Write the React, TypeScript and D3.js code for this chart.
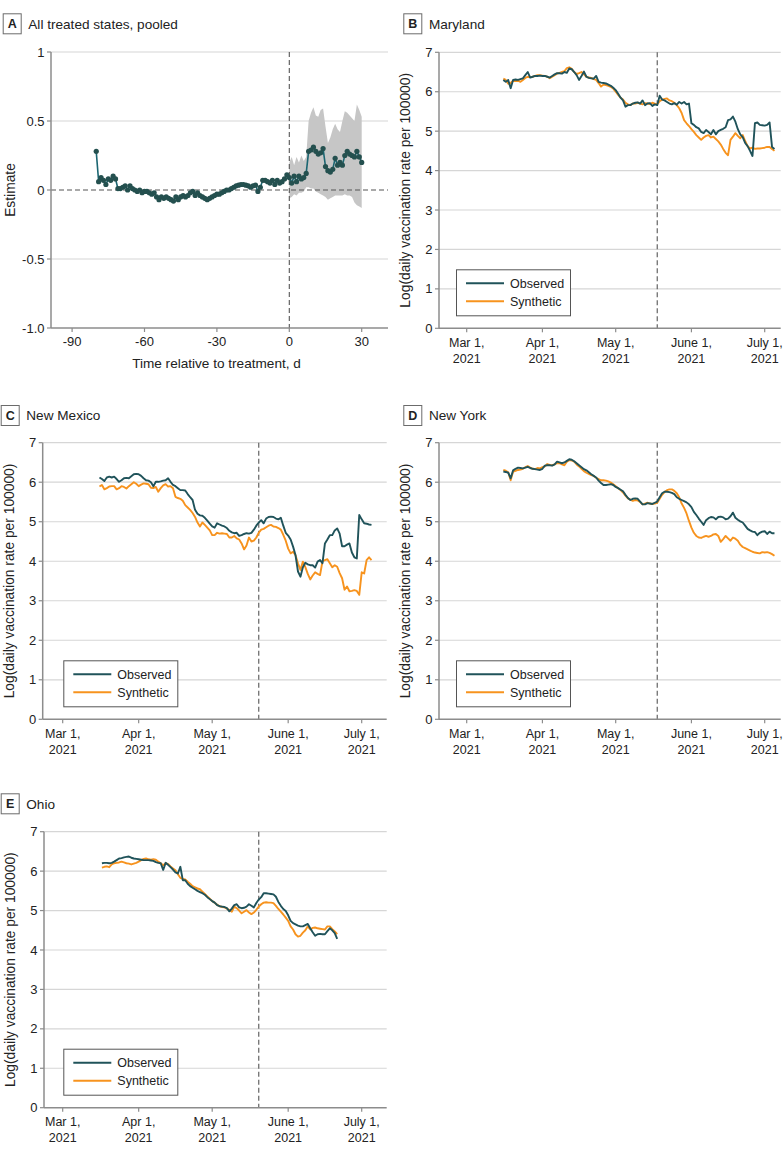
import * as d3 from "d3";

const FONT = "'Liberation Sans', Arial, sans-serif";
const TEAL = "#20535a";
const ORANGE = "#f7931e";
const GRID = "#d6d6d6";
const AXIS = "#8c8c8c";
const DASH = "#555555";

// ---------- Panel A: pooled estimate (one point per day relative to treatment)
const pooledStartDay = -80;
const pooledEstimate = [
  0.28, 0.06, 0.09, 0.07, 0.04, 0.08, 0.07, 0.1, 0.08, 0.01,
  0.01, 0.02, 0.03, 0.0, 0.03, 0.01, 0.0, -0.01, 0.0, -0.02,
  -0.01, -0.01, -0.02, -0.03, -0.02, -0.05, -0.07, -0.05, -0.06, -0.05,
  -0.06, -0.07, -0.08, -0.05, -0.07, -0.05, -0.04, -0.05, -0.04, -0.02,
  -0.01, -0.04, -0.02, -0.04, -0.05, -0.06, -0.07, -0.06, -0.05, -0.04,
  -0.03, -0.03, -0.02, -0.01, 0.0, 0.0, 0.01, 0.02, 0.03, 0.035,
  0.04, 0.04, 0.035, 0.03, 0.02, 0.03, 0.035, -0.01, 0.02, 0.07,
  0.07, 0.06, 0.05, 0.07, 0.04, 0.07, 0.05, 0.06, 0.08, 0.11,
  0.09, 0.05, 0.1, 0.06, 0.1, 0.08, 0.09, 0.12, 0.28, 0.29,
  0.31, 0.28, 0.26, 0.27, 0.3, 0.17, 0.14, 0.13, 0.15, 0.23,
  0.18, 0.2, 0.18, 0.25, 0.28, 0.26, 0.25, 0.24, 0.28, 0.24,
  0.2,
];
const bandStartDay = 0;
const bandUpper = [
  0.2, 0.24, 0.18, 0.24, 0.2, 0.25, 0.21, 0.24, 0.5, 0.56,
  0.6, 0.54, 0.53, 0.58, 0.59, 0.46, 0.34, 0.38, 0.44, 0.48,
  0.44, 0.42, 0.5, 0.57, 0.56, 0.54, 0.52, 0.5, 0.62, 0.58,
  0.53,
];
const bandLower = [
  -0.06, -0.05, -0.03, -0.04, -0.02, -0.02, -0.01, 0.02, 0.02, 0.01,
  0.01, -0.01, -0.02, -0.03, -0.04, -0.05, -0.07, -0.06, -0.05, -0.04,
  -0.04, -0.04, -0.04, -0.03, -0.04, -0.04, -0.05, -0.09, -0.11, -0.12,
  -0.13,
];
const pooledYTicks = [1, 0.5, 0, -0.5, -1];
const pooledYLabels = ["1", "0.5", "0", "-0.5", "-1.0"];
const pooledXTicks = [-90, -60, -30, 0, 30];
const pooledXLabels = ["-90", "-60", "-30", "0", "30"];

// ---------- State panels
const monthTicks = ["2021-03-01", "2021-04-01", "2021-05-01", "2021-06-01", "2021-07-01"];
const monthLabels = ["Mar 1,", "Apr 1,", "May 1,", "June 1,", "July 1,"];
const yearLabel = "2021";
const logTicks = [0, 1, 2, 3, 4, 5, 6, 7];

const marylandStart = "2021-03-16";
const marylandTreat = "2021-05-18";
const marylandObserved = [
  6.3, 6.25, 6.3, 6.09, 6.3, 6.31, 6.3, 6.32, 6.34, 6.42,
  6.5, 6.36, 6.38, 6.4, 6.4, 6.41, 6.4, 6.4, 6.38, 6.36,
  6.4, 6.44, 6.47, 6.47, 6.46, 6.5, 6.48, 6.59, 6.57, 6.5,
  6.42, 6.3, 6.4, 6.51, 6.38, 6.35, 6.34, 6.33, 6.4, 6.25,
  6.23, 6.22, 6.21, 6.18, 6.15, 6.1, 6.04, 5.95, 5.85, 5.78,
  5.62, 5.66, 5.66, 5.7, 5.72, 5.73, 5.7, 5.78, 5.66, 5.7,
  5.71, 5.64, 5.68, 5.66, 5.9, 5.8, 5.78, 5.74, 5.7, 5.68,
  5.71, 5.67, 5.74, 5.7, 5.74, 5.68, 5.7, 5.2, 5.16, 5.1,
  5.07, 4.98, 4.95, 5.03, 4.98, 4.92, 5.03, 4.92, 5.0, 5.03,
  5.06, 5.1, 5.28, 5.3, 5.37, 5.24, 5.05, 4.92, 4.85, 4.7,
  4.62, 4.5, 4.37, 5.2, 5.22, 5.16, 5.15, 5.14, 5.16, 5.22,
  4.6, 4.55,
];
const marylandSynthetic = [
  6.33, 6.3, 6.2, 6.22, 6.28, 6.27, 6.28, 6.25, 6.3, 6.35,
  6.38, 6.37, 6.38, 6.4, 6.42, 6.42, 6.41, 6.4, 6.38, 6.34,
  6.38, 6.42, 6.46, 6.48, 6.5, 6.52, 6.6, 6.62, 6.58, 6.5,
  6.45, 6.47, 6.5, 6.44, 6.38, 6.36, 6.35, 6.32, 6.3, 6.22,
  6.13, 6.18, 6.17, 6.15, 6.12, 6.08, 6.0, 5.92, 5.85, 5.8,
  5.72, 5.68, 5.66, 5.7, 5.7, 5.72, 5.7, 5.68, 5.71, 5.7,
  5.69, 5.72, 5.7, 5.68, 5.76, 5.8, 5.82, 5.83, 5.78, 5.76,
  5.72, 5.66, 5.58, 5.46, 5.28, 5.2, 5.13, 5.05, 4.98, 4.9,
  4.84, 4.78, 4.84, 4.88, 4.9, 4.84, 4.86, 4.8, 4.74, 4.66,
  4.55, 4.45, 4.39, 4.78, 4.86, 4.95, 4.88, 4.82, 4.9, 4.75,
  4.62, 4.56, 4.58, 4.55, 4.56, 4.56, 4.57, 4.58, 4.6, 4.6,
  4.55, 4.5,
];

const newMexicoStart = "2021-03-16";
const newMexicoTreat = "2021-05-20";
const newMexicoObserved = [
  6.12, 6.08, 6.03, 6.12, 6.14, 6.12, 6.14, 6.08, 6.01, 6.05,
  6.1, 6.11, 6.1, 6.15, 6.2, 6.21, 6.2, 6.16, 6.1, 6.05,
  6.04, 6.0, 5.9, 6.01, 6.01, 6.02, 6.04, 6.05, 6.1, 6.01,
  5.93, 5.9, 5.85, 5.8, 5.8, 5.79, 5.7, 5.62, 5.55, 5.3,
  5.2, 5.16, 5.15, 5.1, 5.03, 4.95, 4.88, 4.85, 4.96, 4.93,
  4.9, 4.88, 4.84, 4.77, 4.73, 4.71, 4.72, 4.64, 4.66, 4.69,
  4.71, 4.7, 4.72, 4.8, 4.9, 4.98, 5.04, 4.96, 5.08, 5.12,
  5.13, 5.12, 5.08, 5.06, 5.1, 4.9, 4.72, 4.65, 4.55, 4.37,
  4.15, 3.74, 3.61, 3.85, 3.96, 3.92, 3.9, 3.9, 3.84, 3.99,
  4.03, 3.95, 4.45, 4.55, 4.66, 4.66, 4.78, 4.83, 4.7, 4.38,
  4.38, 4.42, 4.45, 4.22, 4.1, 4.07, 5.17, 5.06, 4.96, 4.95,
  4.93, 4.92,
];
const newMexicoSynthetic = [
  5.89, 5.93, 5.82, 5.85, 5.89, 5.9, 5.9, 5.82, 5.85, 5.9,
  5.88, 5.84, 5.9, 5.95, 6.0, 5.96, 5.9, 5.94, 5.97, 5.96,
  5.95, 5.86, 5.85, 5.88, 5.76, 5.85, 5.92, 5.95, 5.89, 5.9,
  5.85, 5.63, 5.6, 5.58, 5.53, 5.42, 5.36, 5.3, 5.22, 5.12,
  4.98, 4.88, 4.98, 4.92, 4.85, 4.78, 4.66, 4.66, 4.72, 4.7,
  4.71, 4.7, 4.69, 4.6, 4.6, 4.64, 4.58, 4.55, 4.45, 4.3,
  4.4, 4.6, 4.5, 4.52, 4.6, 4.72, 4.8, 4.82, 4.86, 4.9,
  4.92, 4.88, 4.87, 4.84, 4.8, 4.67, 4.52, 4.32, 4.2, 4.24,
  4.15, 3.95, 3.78, 3.99, 3.85, 3.68, 3.54, 3.64, 3.72, 3.68,
  3.65, 4.0, 4.03, 4.05, 3.95, 3.85, 3.9, 3.86, 3.7, 3.57,
  3.28, 3.36, 3.24, 3.25, 3.27, 3.25, 3.15, 3.72, 3.69, 4.03,
  4.1, 4.03,
];

const newYorkStart = "2021-03-16";
const newYorkTreat = "2021-05-18";
const newYorkObserved = [
  6.27, 6.26, 6.24, 6.1, 6.3, 6.34, 6.37, 6.36, 6.35, 6.37,
  6.39, 6.36, 6.34, 6.33, 6.32, 6.31, 6.34, 6.42, 6.43, 6.43,
  6.42, 6.45, 6.52, 6.5, 6.48, 6.5, 6.54, 6.58, 6.57, 6.53,
  6.48, 6.43, 6.38, 6.33, 6.3, 6.25, 6.2, 6.16, 6.12, 6.04,
  5.98, 5.93, 5.93, 5.94, 5.95, 5.93, 5.88, 5.85, 5.81, 5.77,
  5.68, 5.6, 5.55, 5.58, 5.59, 5.58, 5.51, 5.44, 5.44, 5.47,
  5.46, 5.45, 5.48, 5.51, 5.62, 5.72, 5.76, 5.76, 5.75, 5.73,
  5.7, 5.62, 5.58, 5.55, 5.52, 5.49, 5.44, 5.37, 5.25, 5.17,
  5.08, 5.0, 4.92, 5.04, 5.09, 5.12, 5.11, 5.06, 5.12, 5.13,
  5.11, 5.06, 5.08, 5.14, 5.23, 5.1, 5.05, 5.01, 4.98, 4.9,
  4.82, 4.78, 4.75, 4.74, 4.66, 4.72, 4.75, 4.76, 4.69, 4.75,
  4.71, 4.71,
];
const newYorkSynthetic = [
  6.31, 6.29, 6.25, 6.05, 6.27, 6.29, 6.31, 6.32, 6.34, 6.38,
  6.41, 6.37, 6.34, 6.33, 6.36, 6.35, 6.38, 6.4, 6.46, 6.44,
  6.43, 6.45, 6.48, 6.48, 6.45, 6.43, 6.52, 6.56, 6.55, 6.52,
  6.45, 6.4, 6.34, 6.28, 6.24, 6.21, 6.18, 6.16, 6.11, 6.08,
  6.05, 6.05, 6.04, 6.02, 5.99, 5.95, 5.9, 5.85, 5.8, 5.74,
  5.66, 5.59, 5.56, 5.53, 5.55, 5.54, 5.5, 5.44, 5.46, 5.48,
  5.46, 5.45, 5.46, 5.48, 5.58, 5.68, 5.75, 5.8, 5.82, 5.82,
  5.78, 5.72, 5.62, 5.46, 5.35, 5.21, 5.02, 4.85, 4.72, 4.64,
  4.6, 4.59, 4.62, 4.64, 4.62, 4.64, 4.68, 4.69, 4.64, 4.49,
  4.56, 4.64, 4.58, 4.52, 4.6, 4.57, 4.52, 4.42, 4.36, 4.33,
  4.3, 4.27, 4.24, 4.22, 4.21, 4.2, 4.23, 4.22, 4.23, 4.21,
  4.18, 4.14,
];

const ohioStart = "2021-03-17";
const ohioTreat = "2021-05-20";
const ohioObserved = [
  6.2, 6.21, 6.21, 6.2, 6.21, 6.24, 6.28, 6.32, 6.33, 6.35,
  6.36, 6.37, 6.34, 6.32, 6.31, 6.3, 6.29, 6.28, 6.28, 6.28,
  6.27, 6.26, 6.23, 6.21, 6.2, 6.03, 6.21, 6.16, 6.1, 6.04,
  5.97, 5.94, 6.11, 5.77, 5.77, 5.68, 5.62, 5.58, 5.54, 5.5,
  5.47, 5.44, 5.4, 5.34, 5.29, 5.24, 5.2, 5.14, 5.11, 5.1,
  5.09, 5.06, 4.98, 5.05, 5.14, 5.16, 5.08, 5.06, 5.07, 5.1,
  5.16, 5.12, 5.08, 5.19, 5.28, 5.34, 5.44, 5.44, 5.43, 5.42,
  5.41, 5.35, 5.22, 5.12, 5.04, 4.99, 4.88, 4.74, 4.68, 4.65,
  4.62, 4.6, 4.6, 4.63, 4.66, 4.55, 4.45, 4.36, 4.4, 4.41,
  4.4, 4.4, 4.48, 4.55, 4.5, 4.43, 4.28,
];
const ohioSynthetic = [
  6.09, 6.11, 6.12, 6.1, 6.17, 6.2, 6.21, 6.22, 6.24, 6.22,
  6.2, 6.19, 6.17, 6.19, 6.21, 6.24, 6.28, 6.31, 6.32, 6.3,
  6.29, 6.3, 6.29, 6.24, 6.2, 6.15, 6.2, 6.18, 6.12, 6.07,
  6.02, 5.92, 5.83, 5.8, 5.79, 5.73, 5.68, 5.62, 5.59, 5.56,
  5.54, 5.48, 5.42, 5.36, 5.3, 5.24, 5.2, 5.15, 5.11, 5.09,
  5.08, 5.05, 5.01, 4.97, 5.1, 5.06, 5.0, 4.93, 4.97, 5.01,
  4.95, 4.91, 4.95, 5.02, 5.1, 5.16, 5.2, 5.21, 5.2, 5.2,
  5.19, 5.12, 5.04, 4.97, 4.9, 4.82, 4.74, 4.6, 4.52, 4.4,
  4.34, 4.36, 4.44, 4.5, 4.6, 4.52, 4.56, 4.57, 4.55, 4.54,
  4.53, 4.52, 4.6, 4.6, 4.53, 4.47, 4.4,
];

const parseDay = d3.timeParse("%Y-%m-%d");

type BoxProps = { x: number; y: number; letter: string; name: string };
function PanelTitle({ x, y, letter, name }: BoxProps) {
  return (
    <g>
      <rect x={x + 0.5} y={y + 0.5} width={18} height={20} fill="#fff" stroke="#6b6b6b" strokeWidth={1} />
      <text x={x + 9.5} y={y + 15} textAnchor="middle" fontWeight="bold" fontSize={12.5} fill="#222">
        {letter}
      </text>
      <text x={x + 25.6} y={y + 15.2} fontSize={13.6} fill="#222">
        {name}
      </text>
    </g>
  );
}

function PooledPanel() {
  const left = 51, top = 52, w = 337, h = 276;
  // 0 at 238.3 px from axis, 30 days = 72.4 px
  const x = d3.scaleLinear().domain([0, 30]).range([238.3, 310.7]);
  const y = d3.scaleLinear().domain([-1, 1]).range([h, 0]);
  const pts = pooledEstimate.map((v, i) => ({ d: pooledStartDay + i, v }));
  const band = bandUpper.map((u, i) => ({ d: bandStartDay + i, u, l: bandLower[i] }));
  const line = d3.line<any>().x((p) => x(p.d)).y((p) => y(p.v));
  const area = d3
    .area<any>()
    .x((p) => x(p.d))
    .y0((p) => y(p.l))
    .y1((p) => y(p.u));

  return (
    <g transform={`translate(${left},${top})`}>
      {pooledYTicks
        .filter((t) => t !== 0 && t !== -1)
        .map((t) => (
          <line key={t} x1={0} x2={w} y1={y(t)} y2={y(t)} stroke={GRID} strokeWidth={1.2} />
        ))}
      <path d={area(band) || ""} fill="#c6c6c6" />
      <line x1={0} x2={w} y1={y(0)} y2={y(0)} stroke={DASH} strokeWidth={1.1} strokeDasharray="5,3" />
      <line x1={x(0)} x2={x(0)} y1={0} y2={h} stroke={DASH} strokeWidth={1.1} strokeDasharray="5,3" />
      <path d={line(pts) || ""} fill="none" stroke="#1b6672" strokeWidth={1.6} />
      {pts.map((p) => (
        <circle key={p.d} cx={x(p.d)} cy={y(p.v)} r={2.6} fill="#24504f" />
      ))}
      <line x1={0} x2={0} y1={0} y2={h} stroke={AXIS} strokeWidth={1.5} />
      <line x1={0} x2={w} y1={h} y2={h} stroke={AXIS} strokeWidth={1.5} />
      {pooledYTicks.map((t, i) => (
        <g key={t} transform={`translate(0,${y(t)})`}>
          <line x1={-4} x2={0} stroke={AXIS} strokeWidth={1.2} />
          <text x={-6.5} dy="0.35em" textAnchor="end" fontSize={13} fill="#222">
            {pooledYLabels[i]}
          </text>
        </g>
      ))}
      {pooledXTicks.map((t, i) => (
        <g key={t} transform={`translate(${x(t)},${h})`}>
          <line y1={0} y2={4} stroke={AXIS} strokeWidth={1.2} />
          <text y={18} textAnchor="middle" fontSize={13} fill="#222">
            {pooledXLabels[i]}
          </text>
        </g>
      ))}
      <text x={w / 2 - 3} y={h + 40.3} textAnchor="middle" fontSize={13.6} fill="#222">
        Time relative to treatment, d
      </text>
      <text transform={`translate(${-41},${y(0)}) rotate(-90)`} dy="0.35em" textAnchor="middle" fontSize={13.8} fill="#222">
        Estimate
      </text>
    </g>
  );
}

type StateProps = {
  left: number;
  top: number;
  w: number;
  h: number;
  mar1: number;
  jul1: number;
  start: string;
  treat: string;
  observed: number[];
  synthetic: number[];
  legendX: number;
};

function StatePanel(p: StateProps) {
  const ticks = monthTicks.map((s) => parseDay(s) as Date);
  const x = d3.scaleTime().domain([ticks[0], ticks[4]]).range([p.mar1, p.jul1]);
  const y = d3.scaleLinear().domain([0, 7]).range([p.h, 0]);
  const start = parseDay(p.start) as Date;
  const toPts = (vals: number[]) => vals.map((v, i) => ({ t: d3.timeDay.offset(start, i), v }));
  const line = d3.line<any>().x((d) => x(d.t)).y((d) => y(d.v));
  const tx = x(parseDay(p.treat) as Date);
  const ly = p.h - 59;

  return (
    <g transform={`translate(${p.left},${p.top})`}>
      {logTicks
        .filter((t) => t > 0)
        .map((t) => (
          <line key={t} x1={0} x2={p.w} y1={y(t)} y2={y(t)} stroke={GRID} strokeWidth={1.2} />
        ))}
      <line x1={tx} x2={tx} y1={0} y2={p.h} stroke={DASH} strokeWidth={1.1} strokeDasharray="5,3" />
      <path d={line(toPts(p.synthetic)) || ""} fill="none" stroke={ORANGE} strokeWidth={1.9} strokeLinejoin="round" />
      <path d={line(toPts(p.observed)) || ""} fill="none" stroke={TEAL} strokeWidth={1.9} strokeLinejoin="round" />
      <line x1={0} x2={0} y1={0} y2={p.h} stroke={AXIS} strokeWidth={1.5} />
      <line x1={0} x2={p.w} y1={p.h} y2={p.h} stroke={AXIS} strokeWidth={1.5} />
      {logTicks.map((t) => (
        <g key={t} transform={`translate(0,${y(t)})`}>
          <line x1={-4} x2={0} stroke={AXIS} strokeWidth={1.2} />
          <text x={-6.5} dy="0.35em" textAnchor="end" fontSize={13} fill="#222">
            {t}
          </text>
        </g>
      ))}
      {ticks.map((t, i) => (
        <g key={i} transform={`translate(${x(t)},${p.h})`}>
          <line y1={0} y2={4} stroke={AXIS} strokeWidth={1.2} />
          <text y={18.5} textAnchor="middle" fontSize={12.5} fill="#222">
            {monthLabels[i]}
          </text>
          <text y={34.5} textAnchor="middle" fontSize={12.5} fill="#222">
            {yearLabel}
          </text>
        </g>
      ))}
      <text transform={`translate(${-34},${p.h / 2}) rotate(-90)`} dy="0.35em" textAnchor="middle" fontSize={13.8} fill="#222">
        Log(daily vaccination rate per 100000)
      </text>
      <g transform={`translate(${p.legendX},${ly})`}>
        <rect x={0.5} y={0.5} width={114} height={46} fill="#fff" stroke="#555" strokeWidth={1} />
        <line x1={10} x2={48} y1={14} y2={14} stroke={TEAL} strokeWidth={2} />
        <line x1={10} x2={48} y1={32} y2={32} stroke={ORANGE} strokeWidth={2} />
        <text x={54} y={18.6} fontSize={12.5} fill="#222">Observed</text>
        <text x={54} y={36.6} fontSize={12.5} fill="#222">Synthetic</text>
      </g>
    </g>
  );
}

export default function App() {
  return (
    <svg
      width={783}
      height={1158}
      viewBox="0 0 783 1158"
      style={{ position: "absolute", left: 0, top: 0, background: "#fff" }}
      fontFamily={FONT}
    >
      <rect width={783} height={1158} fill="#fff" />
      <PanelTitle x={2.7} y={13.3} letter="A" name="All treated states, pooled" />
      <PanelTitle x={403.3} y={13.3} letter="B" name="Maryland" />
      <PanelTitle x={0.7} y={405} letter="C" name="New Mexico" />
      <PanelTitle x={403.3} y={405} letter="D" name="New York" />
      <PanelTitle x={0.7} y={793.3} letter="E" name="Ohio" />
      <PooledPanel />
      <StatePanel left={439} top={52.3} w={341.7} h={276} mar1={27.7} jul1={325.7} start={marylandStart} treat={marylandTreat} observed={marylandObserved} synthetic={marylandSynthetic} legendX={17} />
      <StatePanel left={42.7} top={442.7} w={344} h={276.6} mar1={20} jul1={319} start={newMexicoStart} treat={newMexicoTreat} observed={newMexicoObserved} synthetic={newMexicoSynthetic} legendX={20.6} />
      <StatePanel left={439} top={442.7} w={341.7} h={276.6} mar1={27.7} jul1={325.7} start={newYorkStart} treat={newYorkTreat} observed={newYorkObserved} synthetic={newYorkSynthetic} legendX={17} />
      <StatePanel left={44} top={831.7} w={342.7} h={276} mar1={18.7} jul1={317.7} start={ohioStart} treat={ohioTreat} observed={ohioObserved} synthetic={ohioSynthetic} legendX={19.3} />
    </svg>
  );
}
